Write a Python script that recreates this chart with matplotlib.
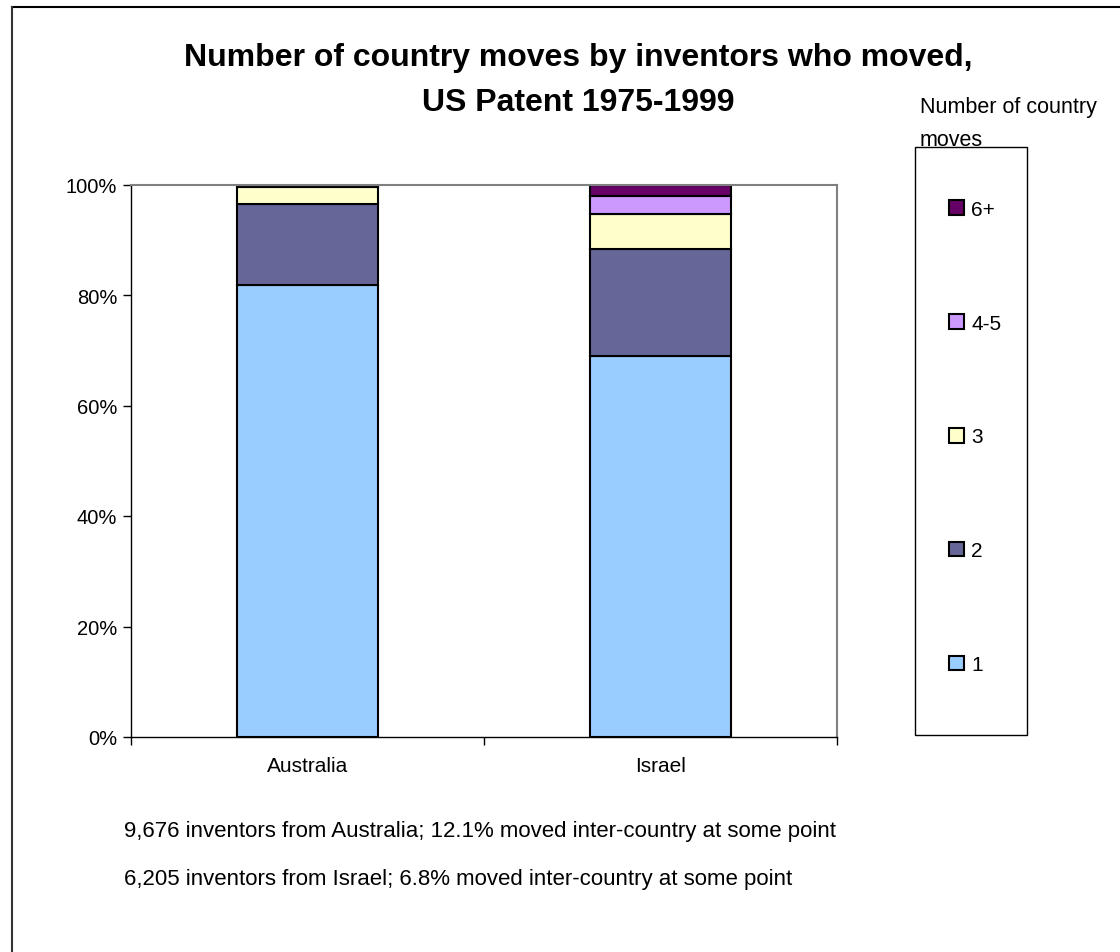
import numpy as np
import matplotlib.pyplot as plt
from matplotlib.patches import Rectangle
from matplotlib.lines import Line2D

plt.rcParams['font.family'] = ['Liberation Sans', 'DejaVu Sans']

countries = ['Australia', 'Israel']
moves = ['1', '2', '3', '4-5', '6+']
# share of movers (%) by number of country moves
shares = {
    '1':   [81.9, 69.0],
    '2':   [14.5, 19.4],
    '3':   [3.2, 6.2],
    '4-5': [0.3, 3.3],
    '6+':  [0.1, 2.1],
}
colors = ['#99CCFF', '#666699', '#FFFFCC', '#CC99FF', '#660066']
notes = ["9,676 inventors from Australia; 12.1% moved inter-country at some point",
         "6,205 inventors from Israel; 6.8% moved inter-country at some point"]

W, H = 1120, 953
fig = plt.figure(figsize=(W / 100, H / 100), dpi=100)
ax = fig.add_axes([131 / W, 1 - 738 / H, (837 - 131) / W, (738 - 185.5) / H])

x = np.arange(len(countries))
bottom = np.zeros(len(countries))
handles = []
for m, c in zip(moves, colors):
    vals = np.array(shares[m])
    b = ax.bar(x, vals, width=0.40, bottom=bottom, color=c, edgecolor='black',
               linewidth=1.5, label=m)
    handles.append(b)
    bottom += vals

ax.set_ylim(0, 100)
ax.set_xlim(-0.5, 1.5)
ax.set_yticks(np.arange(0, 101, 20))
ax.set_yticklabels([f'{v}%' for v in range(0, 101, 20)], fontsize=14.5)
ax.set_xticks([-0.5, 0.5, 1.5])
ax.set_xticklabels([])
ax.set_xticks(x, minor=True)
ax.set_xticklabels(countries, minor=True, fontsize=15)
ax.tick_params(axis='x', which='major', length=6, direction='out', width=1)
ax.tick_params(axis='x', which='minor', length=0, pad=14)
ax.tick_params(axis='y', length=6, direction='out', width=1, pad=4)
for s in ['top', 'right']:
    ax.spines[s].set_color('#808080')
    ax.spines[s].set_linewidth(1.5)
for s in ['left', 'bottom']:
    ax.spines[s].set_linewidth(1)

fig.text(578 / W, 1 - 58 / H, 'Number of country moves by inventors who moved,',
         ha='center', va='center', fontsize=23, fontweight='bold')
fig.text(578 / W, 1 - 103 / H, 'US Patent 1975-1999',
         ha='center', va='center', fontsize=23, fontweight='bold')

# legend box
fig.add_artist(Rectangle((915 / W, 1 - 736 / H), (1027 - 915) / W, (736 - 148) / H,
                         transform=fig.transFigure, fill=False, edgecolor='black', linewidth=1))
fig.text(920 / W, 1 - 108 / H, 'Number of country', ha='left', va='center', fontsize=15.5)
fig.text(920 / W, 1 - 140 / H, 'moves', ha='left', va='center', fontsize=15.5)
fig.legend(handles[::-1], moves[::-1], loc='center left', bbox_to_anchor=(939 / W, 1 - 438 / H),
           frameon=False, fontsize=15, handlelength=0.7, handleheight=0.7,
           handletextpad=0.35, labelspacing=4.55, borderpad=0)

for i, t in enumerate(notes):
    fig.text(124 / W, 1 - (832 + 48 * i) / H, t, ha='left', va='center', fontsize=16)

# outer frame
fig.add_artist(Line2D([12 / W, 1], [1 - 8 / H, 1 - 8 / H], transform=fig.transFigure, color='black', lw=1.5))
fig.add_artist(Line2D([12 / W, 12 / W], [0, 1 - 8 / H], transform=fig.transFigure, color='#333333', lw=1.5))

fig.savefig('out.png', dpi=100)
